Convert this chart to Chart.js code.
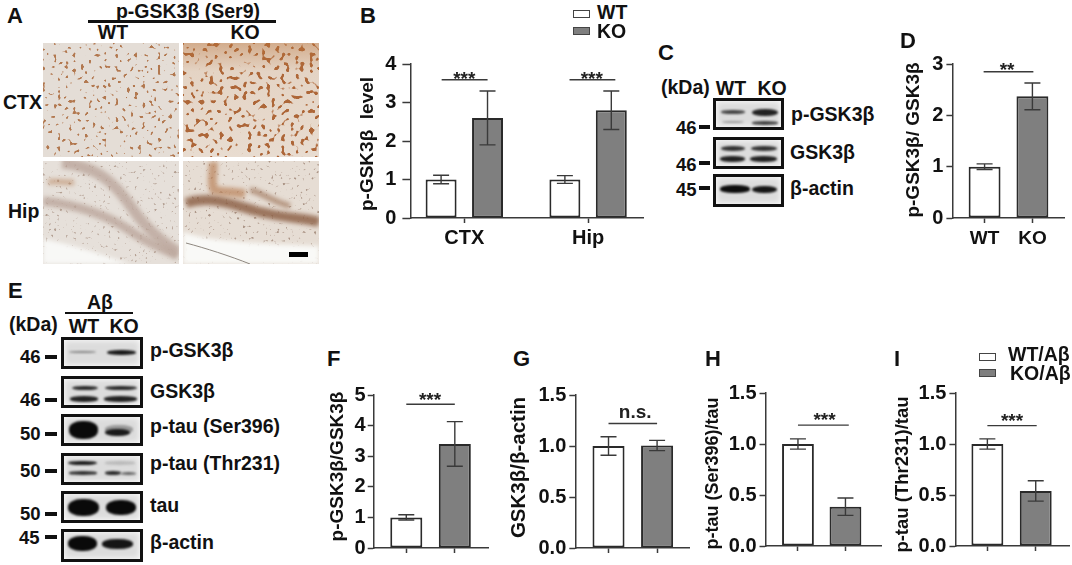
<!DOCTYPE html>
<html>
<head>
<meta charset="utf-8">
<script src="https://cdn.jsdelivr.net/npm/chart.js@4"></script>
<style>
html, body { margin: 0; padding: 0; background: #fff; }
body { width: 1072px; height: 565px; position: relative; overflow: hidden; font-family: 'Liberation Sans', Arial, sans-serif; font-weight: bold; color: #111; filter: blur(.3px); }
canvas { position: absolute; }
.txt { position: absolute; white-space: nowrap; line-height: 1; }
.box { position: absolute; box-sizing: border-box; }
.blot { border: 3px solid #111; overflow: hidden; background: #dcdcdc; box-shadow: inset 0 0 6px #fff; }
.band { position: absolute; border-radius: 45%; filter: blur(1.1px); }
#slides { position: absolute; left: 0; top: 0; }
</style>
</head>
<body>
<svg id="slides" width="1072" height="565">
  <defs>
    <filter id="cellsWT" x="0" y="0" width="100%" height="100%" color-interpolation-filters="sRGB">
      <feTurbulence type="fractalNoise" baseFrequency=".26" numOctaves="1" seed="4"/>
      <feColorMatrix values="0 0 0 0 .70  0 0 0 0 .47  0 0 0 0 .31  14 0 0 0 -8.7"/>
      <feGaussianBlur stdDeviation=".55"/>
    </filter>
    <filter id="cellsKO" x="0" y="0" width="100%" height="100%" color-interpolation-filters="sRGB">
      <feTurbulence type="fractalNoise" baseFrequency=".21" numOctaves="1" seed="11"/>
      <feColorMatrix values="0 0 0 0 .68  0 0 0 0 .40  0 0 0 0 .22  14 0 0 0 -8.2"/>
      <feGaussianBlur stdDeviation=".55"/>
    </filter>
    <filter id="cellsHip" x="0" y="0" width="100%" height="100%" color-interpolation-filters="sRGB">
      <feTurbulence type="fractalNoise" baseFrequency=".35" numOctaves="1" seed="7"/>
      <feColorMatrix values="0 0 0 0 .62  0 0 0 0 .52  0 0 0 0 .46  9 0 0 0 -5.8"/>
      <feGaussianBlur stdDeviation=".4"/>
    </filter>
    <filter id="soft" filterUnits="userSpaceOnUse" x="0" y="0" width="1072" height="565"><feGaussianBlur stdDeviation="2"/></filter>
    <linearGradient id="koTop" x1="0" y1="0" x2="0" y2="1">
      <stop offset="0" stop-color="#b8723a" stop-opacity=".45"/>
      <stop offset=".25" stop-color="#b8723a" stop-opacity=".08"/>
      <stop offset="1" stop-color="#b8723a" stop-opacity="0"/>
    </linearGradient>
    <clipPath id="hipWT"><rect x="43" y="161" width="136" height="103"/></clipPath>
    <clipPath id="hipKO"><rect x="183" y="161" width="136" height="103"/></clipPath>
  </defs>
  <!-- CTX sections -->
  <rect x="43" y="43" width="136" height="114" fill="#e4ddd6"/>
  <rect x="43" y="43" width="136" height="114" filter="url(#cellsWT)"/>
  <rect x="183" y="43" width="136" height="114" fill="#e8dcd0"/>
  <rect x="183" y="43" width="136" height="114" filter="url(#cellsKO)"/>
  <rect x="183" y="43" width="136" height="114" fill="url(#koTop)"/>
  <!-- Hip sections -->
  <g clip-path="url(#hipWT)">
    <rect x="43" y="161" width="136" height="103" fill="#e6e0da"/>
    <rect x="43" y="161" width="136" height="103" filter="url(#cellsHip)" opacity=".7"/>
    <path d="M62 163 C95 166 112 180 130 205 C145 228 160 240 178 252" fill="none" stroke="#bba69b" stroke-width="11" opacity=".8" filter="url(#soft)"/>
    <path d="M43 201 C80 205 110 216 135 234 C150 244 165 250 178 256" fill="none" stroke="#bba69b" stroke-width="9" opacity=".8" filter="url(#soft)"/>
    <path d="M43 239 C70 244 100 254 130 264 L43 264 Z" fill="#f8f8f6" filter="url(#soft)"/>
    <path d="M48 182 C60 180 66 184 74 182" fill="none" stroke="#bd8f6c" stroke-width="6" opacity=".6" filter="url(#soft)"/>
  </g>
  <g clip-path="url(#hipKO)">
    <rect x="183" y="161" width="136" height="103" fill="#e6ddd4"/>
    <rect x="183" y="161" width="136" height="103" filter="url(#cellsHip)" opacity=".8"/>
    <path d="M186 203 C215 194 240 208 265 213 C285 218 305 218 319 222" fill="none" stroke="#8f634a" stroke-width="10" opacity=".85" filter="url(#soft)"/>
    <path d="M250 190 C262 192 272 202 290 206" fill="none" stroke="#a9846c" stroke-width="6" opacity=".8" filter="url(#soft)"/>
    <path d="M213 162 C214 172 210 182 214 190 C222 192 235 192 245 194" fill="none" stroke="#b98158" stroke-width="9" opacity=".7" filter="url(#soft)"/>
    <path d="M183 232 C205 240 240 243 319 246 L319 264 L183 264 Z" fill="#f9f9f7" filter="url(#soft)"/>
    <path d="M186 243 C205 248 230 256 250 264" fill="none" stroke="#8f8880" stroke-width="1"/>
  </g>
  <rect x="289" y="252" width="19" height="5" fill="#000"/>
</svg>
<script>
// values
const bGroups = ['CTX', 'Hip']
const bWT = [1, 1]
const bKO = [2.6, 2.8]
const bWTErr = [0.11, 0.1]
const bKOErr = [0.7, 0.5]

const wtKo = ['WT', 'KO']
const dValues = [1, 2.37]
const dErrs = [0.055, 0.26]

const noLabels = ['', '']
const fValues = [1, 3.4]
const fErrs = [0.085, 0.73]
const gValues = [1, 1.005]
const gErrs = [0.09, 0.05]
const hValues = [1, 0.385]
const hErrs = [0.05, 0.085]
const iValues = [1, 0.54]
const iErrs = [0.05, 0.1]

const WHITE = '#ffffff'
const GREY = '#7f7f7f'
const INK = '#3a3a3a'
const FONT = "'Liberation Sans', Arial, sans-serif"

const label = (text, x, y, size = 19.5, center = false) => {
  const el = document.createElement('div')
  el.className = 'txt'
  el.textContent = text
  el.style.left = x + 'px'
  el.style.top = y + 'px'
  el.style.fontSize = size + 'px'
  el.style.transform = center ? 'translate(-50%,-50%)' : 'translateY(-50%)'
  document.body.appendChild(el)
}

const rect = (x, y, w, h, css) => {
  const el = document.createElement('div')
  el.className = 'box'
  el.style.cssText = `left:${x}px;top:${y}px;width:${w}px;height:${h}px;${css}`
  document.body.appendChild(el)
  return el
}

// western blot strip: bands are [x0, x1, centre y, thickness, colour] in page px
const blot = (x, y, w, h, bands) => {
  const el = rect(x, y, w, h, '')
  el.classList.add('blot')
  bands.forEach(b => {
    const band = document.createElement('div')
    band.className = 'band'
    band.style.cssText = `left:${b[0] - x - 3}px;top:${b[2] - b[3] / 2 - y - 3}px;width:${b[1] - b[0]}px;height:${b[3]}px;background:${b[4]}`
    el.appendChild(band)
  })
}

// error bars and significance lines, all placed through the chart scales
const annotations = {
  id: 'annotations',
  afterDatasetsDraw(chart, args, opts) {
    const { ctx, scales } = chart
    ctx.save()
    ctx.strokeStyle = INK
    ctx.lineWidth = 1.4
    chart.data.datasets.forEach((ds, d) => {
      chart.getDatasetMeta(d).data.forEach((bar, i) => {
        const top = scales.y.getPixelForValue(ds.data[i].y + ds.errs[i])
        const low = scales.y.getPixelForValue(ds.data[i].y - ds.errs[i])
        ctx.beginPath()
        ctx.moveTo(bar.x, top)
        ctx.lineTo(bar.x, low)
        ctx.moveTo(bar.x - 8, top)
        ctx.lineTo(bar.x + 8, top)
        ctx.moveTo(bar.x - 8, low)
        ctx.lineTo(bar.x + 8, low)
        ctx.stroke()
      })
    })
    ctx.fillStyle = '#222'
    ctx.textAlign = 'center'
    ctx.textBaseline = 'alphabetic'
    ctx.font = `bold 19px ${FONT}`
    opts.marks.forEach(m => {
      const y = scales.y.getPixelForValue(m.y)
      ctx.beginPath()
      ctx.moveTo(scales.x.getPixelForValue(m.from), y)
      ctx.lineTo(scales.x.getPixelForValue(m.to), y)
      ctx.stroke()
      ctx.fillText(m.text, scales.x.getPixelForValue(m.at), y + m.dy)
    })
    ctx.restore()
  }
}

function drawPanel(id, p) {
  const lineHeight = p.titleSize * 1.2
  const leftMargin = p.axisX - p.titleX + lineHeight / 2
  const topMargin = 24
  const bottomMargin = 36
  const canvas = document.createElement('canvas')
  canvas.id = id
  canvas.width = leftMargin + (p.right - p.axisX) + 6
  canvas.height = topMargin + (p.bottom - p.top) + bottomMargin
  canvas.style.left = (p.axisX - leftMargin) + 'px'
  canvas.style.top = (p.top - topMargin) + 'px'
  document.body.appendChild(canvas)

  const spacing = p.ticks[1] - p.ticks[0]
  new Chart(canvas, {
    type: 'bar',
    data: { datasets: p.datasets },
    plugins: [annotations],
    options: {
      responsive: false,
      animation: false,
      layout: { padding: { top: topMargin, right: 6, left: 0, bottom: 0 } },
      plugins: { legend: { display: false }, tooltip: { enabled: false }, annotations: { marks: p.marks } },
      datasets: { bar: { categoryPercentage: p.catPct, barPercentage: p.barPct, borderWidth: 2, borderColor: '#2a2a2a', borderSkipped: false } },
      scales: {
        x: {
          type: 'linear',
          offset: false,
          min: (p.axisX - p.ticks[0]) / spacing,
          max: 1 + (p.right - p.ticks[1]) / spacing,
          afterBuildTicks: s => { s.ticks = [{ value: 0 }, { value: 1 }] },
          afterFit: s => { s.height = bottomMargin },
          border: { display: true, color: INK, width: 1.5 },
          grid: { display: true, offset: false, drawOnChartArea: false, drawTicks: true, tickLength: 5, tickWidth: 1.5, tickColor: INK },
          ticks: {
            color: '#111',
            padding: p.xPad,
            maxRotation: 0,
            autoSkip: false,
            font: { family: FONT, weight: 'bold', size: p.xSize },
            callback: (v, i) => p.labels[i]
          }
        },
        y: {
          min: 0,
          max: p.yMax,
          afterBuildTicks: s => { s.ticks = p.yTicks.map(value => ({ value })) },
          afterFit: s => {
            s.width = leftMargin
            // the title sits a little off the axis centre in the reference
            if (!s.titleShifted) {
              const drawTitle = s.drawTitle.bind(s)
              s.drawTitle = () => {
                s.ctx.save()
                s.ctx.translate(0, p.titleDy)
                drawTitle()
                s.ctx.restore()
              }
              s.titleShifted = true
            }
          },
          border: { display: true, color: INK, width: 1.5 },
          grid: { display: true, drawOnChartArea: false, drawTicks: true, tickLength: p.tickLen, tickWidth: 1.5, tickColor: INK },
          title: { display: true, text: p.title, color: '#111', padding: 0, font: { family: FONT, weight: 'bold', size: p.titleSize, lineHeight: 1.2 } },
          ticks: {
            color: '#111',
            padding: p.yPad,
            autoSkip: false,
            font: { family: FONT, weight: 'bold', size: 20 },
            callback: v => p.yFormat(v)
          }
        }
      }
    }
  })
}

const asPoints = values => values.map((y, x) => ({ x, y }))
const pair = (values, errs) => [{ data: asPoints(values), errs, backgroundColor: [WHITE, GREY] }]
const whole = v => String(v)
const oneDecimal = v => v.toFixed(1)

drawPanel('panelB', {
  axisX: 410, right: 643, top: 64, bottom: 218, titleX: 367, titleSize: 19, titleDy: 3,
  ticks: [464, 588], catPct: 0.75, barPct: 0.667, xPad: 3, xSize: 20, tickLen: 8, yPad: 6,
  labels: bGroups, yMax: 4, yTicks: [0, 1, 2, 3, 4], yFormat: whole, title: 'p-GSK3β  level',
  datasets: [
    { data: asPoints(bWT), errs: bWTErr, backgroundColor: WHITE },
    { data: asPoints(bKO), errs: bKOErr, backgroundColor: GREY }
  ],
  marks: [
    { from: -0.183, to: 0.188, at: 0, y: 3.59, text: '***', dy: 5 },
    { from: 0.85, to: 1.22, at: 1.03, y: 3.59, text: '***', dy: 5 }
  ]
})
drawPanel('panelD', {
  axisX: 952, right: 1064, top: 64, bottom: 218, titleX: 913, titleSize: 19, titleDy: -1,
  ticks: [984.3, 1032.3], catPct: 1, barPct: 0.667, xPad: 4, xSize: 19, tickLen: 6, yPad: 3,
  labels: wtKo, yMax: 3, yTicks: [0, 1, 2, 3], yFormat: whole, title: 'p-GSK3β/ GSK3β',
  datasets: pair(dValues, dErrs),
  marks: [{ from: -0.02, to: 1.02, at: 0.47, y: 2.85, text: '**', dy: 4 }]
})
drawPanel('panelF', {
  axisX: 373.3, right: 488, top: 395, bottom: 548.3, titleX: 337, titleSize: 19, titleDy: -5,
  ticks: [406, 454.7], catPct: 1, barPct: 0.66, xPad: 3, xSize: 18, tickLen: 6, yPad: 2,
  labels: noLabels, yMax: 5, yTicks: [0, 1, 2, 3, 4, 5], yFormat: whole, title: 'p-GSK3β/GSK3β',
  datasets: pair(fValues, fErrs),
  marks: [{ from: 0, to: 1, at: 0.49, y: 4.7, text: '***', dy: 2 }]
})
drawPanel('panelG', {
  axisX: 575, right: 689, top: 395, bottom: 548.3, titleX: 519, titleSize: 20.5, titleDy: -4,
  ticks: [608.3, 657], catPct: 1, barPct: 0.66, xPad: 3, xSize: 18, tickLen: 6, yPad: 3,
  labels: noLabels, yMax: 1.5, yTicks: [0, 0.5, 1, 1.5], yFormat: oneDecimal, title: 'GSK3β/β-actin',
  datasets: pair(gValues, gErrs),
  marks: [{ from: 0, to: 1, at: 0.55, y: 1.22, text: 'n.s.', dy: -6 }]
})
drawPanel('panelH', {
  axisX: 765.7, right: 881.7, top: 393.3, bottom: 547.3, titleX: 713, titleSize: 18, titleDy: 4,
  ticks: [798.3, 846], catPct: 1, barPct: 0.67, xPad: 3, xSize: 18, tickLen: 6, yPad: 3,
  labels: noLabels, yMax: 1.5, yTicks: [0, 0.5, 1, 1.5], yFormat: oneDecimal, title: 'p-tau (Ser396)/tau',
  datasets: pair(hValues, hErrs),
  marks: [{ from: 0, to: 1.07, at: 0.56, y: 1.185, text: '***', dy: 1 }]
})
drawPanel('panelI', {
  axisX: 955.3, right: 1069, top: 393.3, bottom: 547.3, titleX: 903, titleSize: 18.5, titleDy: 5,
  ticks: [987.3, 1035.7], catPct: 1, barPct: 0.66, xPad: 3, xSize: 18, tickLen: 6, yPad: 3,
  labels: noLabels, yMax: 1.5, yTicks: [0, 0.5, 1, 1.5], yFormat: oneDecimal, title: 'p-tau (Thr231)/tau',
  datasets: pair(iValues, iErrs),
  marks: [{ from: 0, to: 1.02, at: 0.51, y: 1.18, text: '***', dy: 1 }]
})

// panel letters
label('A', 7, 16, 22); label('B', 360, 16, 22); label('C', 658, 53, 22); label('D', 900, 41, 22)
label('E', 8, 291, 22); label('F', 327, 359, 22); label('G', 513, 359, 22); label('H', 705, 359, 22); label('I', 894, 359, 22)

// panel A headings
label('p-GSK3β (Ser9)', 188, 12, 19.5, true)
rect(88, 20, 188, 2.6, 'background:#111')
label('WT', 113, 33, 19.5, true); label('KO', 245, 33, 19.5, true)
label('CTX', 3, 103, 19.5); label('Hip', 8, 212, 19.5)

// legends
const swatch = (x, y, fill) => rect(x, y, 17, 8, `background:${fill};border:1.4px solid #444`)
swatch(573, 10, WHITE); label('WT', 597, 13, 19.5)
swatch(573, 27, GREY); label('KO', 597, 32, 19.5)
swatch(979, 353, WHITE); label('WT/Aβ', 1008, 355, 19.5)
swatch(979, 369, GREY); label('KO/Aβ', 1010, 374, 19.5)

// panel C
label('(kDa)', 661, 88); label('WT', 731, 89, 19.5, true); label('KO', 772, 89, 19.5, true)
blot(713, 98, 71, 32, [[721, 745, 112, 4, '#444'], [752, 778, 112, 7, '#222'], [722, 744, 122, 2, '#999'], [752, 778, 123, 3.5, '#444']])
blot(713, 137, 71, 32, [[721, 745, 148, 5, '#333'], [751, 777, 148, 5, '#333'], [720, 745, 159, 6, '#222'], [750, 777, 159, 6, '#222']])
blot(713, 174, 71, 33, [[720, 750, 189, 8, '#0d0d0d'], [752, 777, 189, 7, '#161616']])
const marker = (text, x, y, dashX, dashW, dashY) => {
  label(text, x, y, 18.5)
  rect(dashX, dashY - 1.7, dashW, 3.4, 'background:#111')
}
marker('46', 676, 128, 699, 11, 127)
marker('46', 676, 165, 699, 11, 163)
marker('45', 676, 190, 699, 11, 188)
label('p-GSK3β', 791, 115); label('GSK3β', 790, 153); label('β-actin', 790, 189)

// panel E
label('Aβ', 100, 303, 19.5, true)
rect(65, 311.5, 68, 2.8, 'background:#111')
label('(kDa)', 9, 325); label('WT', 84, 327, 19.5, true); label('KO', 124, 327, 19.5, true)
blot(61, 337, 82, 32, [[69, 96, 352, 2.6, '#888'], [107, 136, 352, 5, '#1a1a1a']])
blot(61, 376, 82, 32, [[72, 98, 388, 4.5, '#2a2a2a'], [105, 137, 388, 4.5, '#2a2a2a'], [70, 98, 399, 5.5, '#222'], [104, 137, 399, 5.5, '#222']])
blot(61, 414, 82, 32, [[69, 98, 430, 18, '#0a0a0a'], [105, 133, 429, 9, '#999'], [105, 130, 432, 7, '#1a1a1a']])
blot(61, 453, 82, 32, [[68, 97, 463, 4.5, '#1c1c1c'], [105, 135, 463, 3.5, '#bbb'], [69, 97, 473, 3.6, '#333'], [105, 121, 473, 4, '#2a2a2a'], [121, 136, 473, 3, '#666']])
blot(61, 491, 82, 32, [[68, 99, 507, 17, '#0a0a0a'], [106, 136, 507, 15, '#0a0a0a']])
blot(61, 529, 82, 33, [[68, 97, 543, 15, '#0a0a0a'], [102, 133, 544, 10, '#151515']])
marker('46', 20, 357, 45, 12, 357)
marker('46', 20, 400, 45, 12, 400)
marker('50', 20, 434, 45, 12, 434)
marker('50', 20, 471, 45, 12, 471)
marker('50', 20, 514, 45, 12, 514)
marker('45', 19, 538, 45, 12, 537)
label('p-GSK3β', 150, 351); label('GSK3β', 150, 392); label('p-tau (Ser396)', 150, 427)
label('p-tau (Thr231)', 150, 464); label('tau', 150, 506); label('β-actin', 150, 543)
</script>
</body>
</html>
